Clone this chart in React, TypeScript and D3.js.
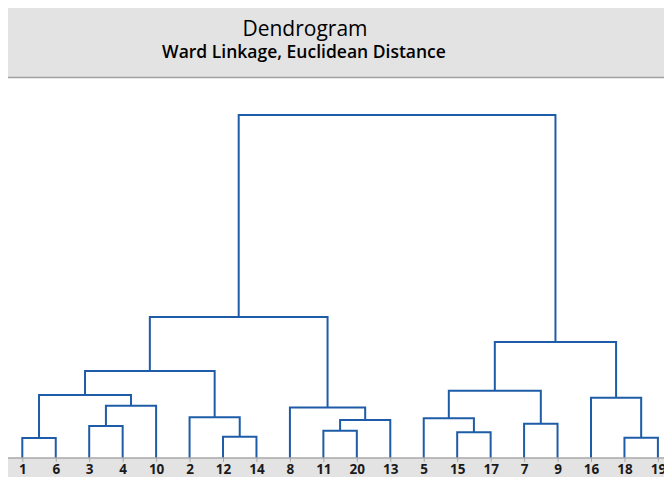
import React, { useEffect, useRef } from "react";
import * as d3 from "d3";

// leaf order along the axis
const leafLabels = ["1", "6", "3", "4", "10", "2", "12", "14", "8", "11", "20", "13", "5", "15", "17", "7", "9", "16", "18", "19"];

// merges: [left, right, distance]; merge i gets the id "c" + i
const merges: [string, string, number][] = [
  ["1", "6", 2.0],
  ["3", "4", 3.2],
  ["c1", "10", 5.23],
  ["c0", "c2", 6.3],
  ["12", "14", 2.13],
  ["2", "c4", 4.07],
  ["c3", "c5", 8.7],
  ["11", "20", 2.73],
  ["c7", "13", 3.8],
  ["8", "c8", 5.05],
  ["c6", "c9", 14.1],
  ["15", "17", 2.57],
  ["5", "c11", 3.97],
  ["7", "9", 3.43],
  ["c12", "c13", 6.73],
  ["18", "19", 2.03],
  ["16", "c15", 6.03],
  ["c14", "c16", 11.6],
  ["c10", "c17", 34.3],
];

const title = "Dendrogram";
const subtitle = "Ward Linkage, Euclidean Distance";

const App: React.FC = () => {
  const ref = useRef<SVGSVGElement | null>(null);
  const width = 664;
  const height = 477;

  useEffect(() => {
    if (!ref.current) return;
    const svg = d3.select(ref.current);
    svg.selectAll("*").remove();

    const baseY = 458;
    const x = d3.scalePoint<string>().domain(leafLabels).range([22.3, 657.9]);
    const y = d3.scaleLinear().domain([0, d3.max(merges, (m) => m[2]) as number]).range([baseY, 115]);

    // header band
    svg.append("rect").attr("x", 8).attr("y", 8).attr("width", width - 8).attr("height", 69).attr("fill", "#e3e3e3");
    svg.append("line").attr("x1", 8).attr("x2", width).attr("y1", 77.5).attr("y2", 77.5).attr("stroke", "#a0a0a0").attr("stroke-width", 1.5);

    svg.append("text").attr("x", 305).attr("y", 35.5).attr("text-anchor", "middle")
      .attr("font-family", "'Open Sans', sans-serif").attr("font-size", 21).attr("font-weight", 500)
      .attr("fill", "#000").text(title);
    svg.append("text").attr("x", 304).attr("y", 58).attr("text-anchor", "middle")
      .attr("font-family", "'Open Sans', sans-serif").attr("font-size", 17.5).attr("font-weight", 600)
      .attr("fill", "#000").text(subtitle);

    // axis band
    svg.append("rect").attr("x", 8).attr("y", baseY).attr("width", width - 8).attr("height", height - baseY).attr("fill", "#e3e3e3");

    // node positions
    const pos = new Map<string, { x: number; h: number }>();
    leafLabels.forEach((l) => pos.set(l, { x: x(l) as number, h: 0 }));
    merges.forEach(([a, b, h], i) => {
      const pa = pos.get(a)!;
      const pb = pos.get(b)!;
      pos.set("c" + i, { x: (pa.x + pb.x) / 2, h });
    });

    const g = svg.append("g");
    merges.forEach(([a, b, h]) => {
      const pa = pos.get(a)!;
      const pb = pos.get(b)!;
      const path = d3.path();
      path.moveTo(pa.x, y(pa.h));
      path.lineTo(pa.x, y(h));
      path.lineTo(pb.x, y(h));
      path.lineTo(pb.x, y(pb.h));
      g.append("path").attr("d", path.toString()).attr("fill", "none")
        .attr("stroke", "#1f5ca8").attr("stroke-width", 2);
    });

    const axis = d3.axisBottom(x).tickSize(4);
    const ax = svg.append("g").attr("transform", `translate(0, ${baseY})`).call(axis);
    ax.select(".domain").attr("stroke", "#a8a8a8").attr("stroke-width", 1.5)
      .attr("d", `M8,0H${width}`);
    ax.selectAll(".tick line").attr("stroke", "#a8a8a8");
    ax.selectAll(".tick text").attr("font-family", "'Open Sans', sans-serif").attr("font-size", 13.5)
      .attr("font-weight", 700).attr("fill", "#1a1a1a").attr("y", 15.5).attr("dy", null);
  }, []);

  return (
    <svg ref={ref} width={width} height={height}
      style={{ position: "absolute", left: 0, top: 0, background: "#fff" }} />
  );
};

export default App;
